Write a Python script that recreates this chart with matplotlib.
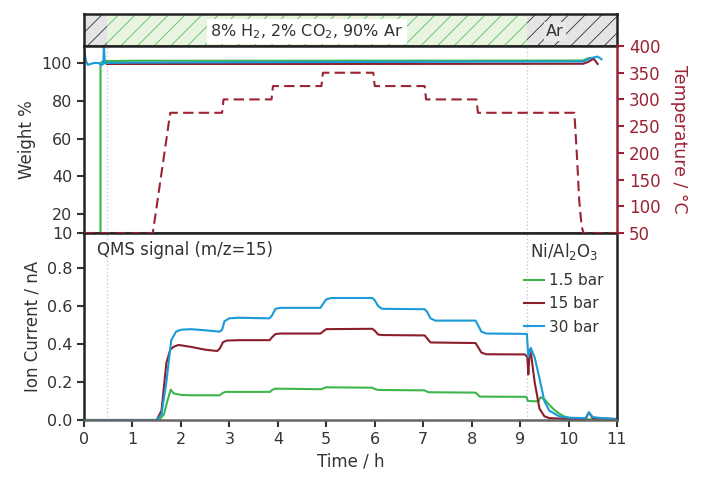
import matplotlib
matplotlib.use("Agg")
import matplotlib.pyplot as plt
from matplotlib.patches import Rectangle

plt.rcParams['font.family'] = ['DejaVu Sans']
plt.rcParams['hatch.linewidth'] = 0.6

# --- gas atmosphere switches (h)
gas_switch = [0.47, 9.15]
gas_labels = ["8% H$_2$, 2% CO$_2$, 90% Ar", "Ar"]

# --- temperature programme
temp_t = [0, 1.42, 1.78, 2.85, 2.88, 3.87, 3.9, 4.9, 4.93, 5.97, 6.0, 7.03, 7.06,
          8.1, 8.13, 10.12, 10.17, 10.22, 10.27, 10.31, 11]
temp_v = [50, 50, 275, 275, 300, 300, 325, 325, 350, 350, 325, 325, 300,
          300, 275, 275, 200, 112, 62, 50, 50]

# --- weight %
w_green_t = [0.34, 0.34, 0.4, 1, 5, 10.3, 10.38, 10.45]
w_green_v = [0, 100, 101, 101.2, 101.2, 101.3, 102.3, 102.6]
w_red_t = [0.47, 1, 5, 10.3, 10.4, 10.52, 10.6]
w_red_v = [99.5, 99.5, 99.5, 99.6, 100.5, 102.3, 99.5]
w_blue_t = [0, 0.04, 0.08, 0.2, 0.3, 0.36, 0.4, 0.41, 0.43, 0.47, 1, 5, 10.3,
            10.45, 10.6, 10.68]
w_blue_v = [107.5, 101, 99, 100, 100, 99, 99.5, 110, 100, 100, 100.2, 100.5, 100.8,
            102.5, 103.4, 102]

# --- QMS ion current m/z=15 (nA)
i15_t = [0, 1.55, 1.65, 1.72, 1.79, 1.85, 2.0, 2.2, 2.8, 2.85, 2.92, 3.84, 3.88, 3.95,
         4.9, 4.95, 5.0, 5.95, 6.0, 6.07, 7.03, 7.07, 7.12, 8.08, 8.12, 8.17, 9.13,
         9.16, 9.38, 9.42, 9.5, 9.6, 9.7, 9.8, 9.9, 10.0, 10.1, 10.25, 11]
i15_v = [0, 0, 0.03, 0.1, 0.16, 0.14, 0.132, 0.13, 0.13, 0.14, 0.148, 0.148, 0.158, 0.165,
         0.162, 0.168, 0.172, 0.17, 0.163, 0.158, 0.156, 0.15, 0.146, 0.144, 0.135, 0.123, 0.122,
         0.1, 0.098, 0.12, 0.11, 0.08, 0.055, 0.035, 0.02, 0.012, 0.008, 0.004, 0.002]

i150_t = [0, 1.5, 1.6, 1.7, 1.78, 1.85, 1.95, 2.2, 2.5, 2.75, 2.8, 2.87, 2.95, 3.2,
          3.83, 3.88, 3.95, 4.05, 4.88, 4.93, 5.0, 5.95, 6.0, 6.07, 6.15, 7.03, 7.08,
          7.15, 8.08, 8.13, 8.2, 8.3, 9.1, 9.15, 9.17, 9.2, 9.23, 9.3, 9.4, 9.5, 9.6,
          10.0, 10.35, 10.42, 10.5, 11]
i150_v = [0, 0, 0.05, 0.3, 0.37, 0.385, 0.395, 0.385, 0.37, 0.363, 0.375, 0.41, 0.418, 0.42,
          0.42, 0.435, 0.452, 0.455, 0.455, 0.465, 0.478, 0.48, 0.47, 0.45, 0.447, 0.445, 0.43,
          0.408, 0.405, 0.385, 0.355, 0.346, 0.345, 0.33, 0.24, 0.37, 0.34, 0.2, 0.06, 0.02, 0.01,
          0.005, 0.005, 0.04, 0.01, 0.005]

i300_t = [0, 1.5, 1.6, 1.7, 1.8, 1.9, 2.0, 2.2, 2.5, 2.8, 2.85, 2.9, 3.0, 3.2, 3.83,
          3.88, 3.95, 4.05, 4.88, 4.93, 5.0, 5.1, 5.95, 6.0, 6.07, 6.15, 7.03, 7.08,
          7.15, 7.25, 8.08, 8.13, 8.2, 8.3, 9.14, 9.17, 9.22, 9.3, 9.4, 9.5, 9.6,
          9.8, 10.0, 10.35, 10.42, 10.5, 10.7, 11.0]
i300_v = [0, 0, 0.03, 0.2, 0.42, 0.465, 0.475, 0.478, 0.472, 0.465, 0.475, 0.52, 0.535,
          0.538, 0.535, 0.55, 0.585, 0.59, 0.59, 0.61, 0.635, 0.642, 0.642, 0.63, 0.6, 0.585,
          0.583, 0.57, 0.535, 0.523, 0.523, 0.5, 0.465, 0.455, 0.453, 0.33, 0.38, 0.33, 0.22,
          0.1, 0.05, 0.02, 0.012, 0.01, 0.04, 0.015, 0.01, 0.005]

c_green = "#3db54a"
c_red = "#8c1d2a"
c_blue = "#1a9ad6"
c_temp = "#9b2335"

fig = plt.figure(figsize=(7.12, 4.82), dpi=100)
L, W = 84 / 712, 533 / 712
ax_band = fig.add_axes([L, 1 - 46 / 482, W, 32 / 482])
ax_top = fig.add_axes([L, 1 - 233 / 482, W, 187 / 482])
ax_bot = fig.add_axes([L, 1 - 420 / 482, W, 187 / 482])

# gas band
ax_band.set_xlim(0, 11)
ax_band.set_ylim(0, 1)
edges = [0] + gas_switch + [11]
fills = [("#e4e4e4", "#333333"), ("#e6f4e0", "#5cbf5c"), ("#e4e4e4", "#333333")]
for (x0, x1), (fc, hc) in zip(zip(edges[:-1], edges[1:]), fills):
    ax_band.add_patch(Rectangle((x0, 0), x1 - x0, 1, facecolor=fc, edgecolor=hc,
                                hatch="//", linewidth=0))
ax_band.text(4.6, 0.45, gas_labels[0], ha="center", va="center", fontsize=11.5, color="#333333",
             bbox=dict(facecolor="white", edgecolor="none", pad=2.5))
ax_band.text(9.72, 0.45, gas_labels[1], ha="center", va="center", fontsize=11.5, color="#333333",
             bbox=dict(facecolor="#e8e8e8", edgecolor="none", pad=1.5))
ax_band.set_xticks([])
ax_band.set_yticks([])
for s in ax_band.spines.values():
    s.set_linewidth(1.8)
    s.set_color("#222222")

# weight + temperature
ax_top.plot(w_green_t, w_green_v, color=c_green, lw=1.5)
ax_top.plot(w_red_t, w_red_v, color=c_red, lw=1.5)
ax_top.plot(w_blue_t, w_blue_v, color=c_blue, lw=1.5)
ax_top.set_xlim(0, 11)
ax_top.set_ylim(10, 109)
ax_top.set_yticks([10, 20, 40, 60, 80, 100])
ax_top.set_xticks([])
ax_top.set_ylabel("Weight %", fontsize=12, color="#333333")
ax_top.tick_params(axis="y", labelsize=11.5, direction="out", length=5, width=1.5, colors="#333333")

ax_t = ax_top.twinx()
ax_t.plot(temp_t, temp_v, color=c_temp, lw=1.5, ls=(0, (5, 2.5)))
ax_t.set_ylim(50, 400)
ax_t.set_yticks(range(50, 401, 50))
ax_t.set_ylabel("Temperature / °C", fontsize=12.5, color=c_temp, rotation=270, labelpad=20)
ax_t.tick_params(axis="y", labelsize=12, direction="out", length=5, width=1.5, colors=c_temp)
ax_t.spines["right"].set_color(c_temp)
ax_t.spines["right"].set_linewidth(1.8)

# ion current
ax_bot.plot(i15_t, i15_v, color=c_green, lw=1.5, label="1.5 bar")
ax_bot.plot(i150_t, i150_v, color=c_red, lw=1.5, label="15 bar")
ax_bot.plot(i300_t, i300_v, color=c_blue, lw=1.5, label="30 bar")
ax_bot.set_xlim(0, 11)
ax_bot.set_ylim(0, 0.984)
ax_bot.set_xticks(range(0, 12))
ax_bot.set_yticks([0.0, 0.2, 0.4, 0.6, 0.8])
ax_bot.set_yticklabels(["0.0", "0.2", "0.4", "0.6", "0.8"])
ax_bot.set_xlabel("Time / h", fontsize=12, color="#333333")
ax_bot.set_ylabel("Ion Current / nA", fontsize=12, color="#333333")
ax_bot.tick_params(labelsize=11.5, direction="out", length=5, width=1.5, colors="#333333")
ax_bot.text(0.025, 0.955, "QMS signal (m/z=15)", transform=ax_bot.transAxes, ha="left",
            va="top", fontsize=12, color="#333333")
ax_bot.text(0.965, 0.955, "Ni/Al$_2$O$_3$", transform=ax_bot.transAxes, ha="right",
            va="top", fontsize=12, color="#333333")
ax_bot.legend(loc="upper right", bbox_to_anchor=(1.0, 0.86), frameon=False, fontsize=11,
              handlelength=1.3, handletextpad=0.3, labelspacing=0.55, labelcolor="#333333")

for ax in (ax_top, ax_bot):
    for x in gas_switch:
        ax.axvline(x, color="#cccccc", lw=1, ls=":", zorder=0)
    for s in ax.spines.values():
        s.set_linewidth(1.8)
        s.set_color("#222222")
ax_top.spines["right"].set_visible(False)
ax_bot.spines["bottom"].set_color("#666666")
ax_t.spines["left"].set_visible(False)
ax_t.spines["top"].set_visible(False)
ax_t.spines["bottom"].set_visible(False)

fig.savefig("out.png", dpi=100)
